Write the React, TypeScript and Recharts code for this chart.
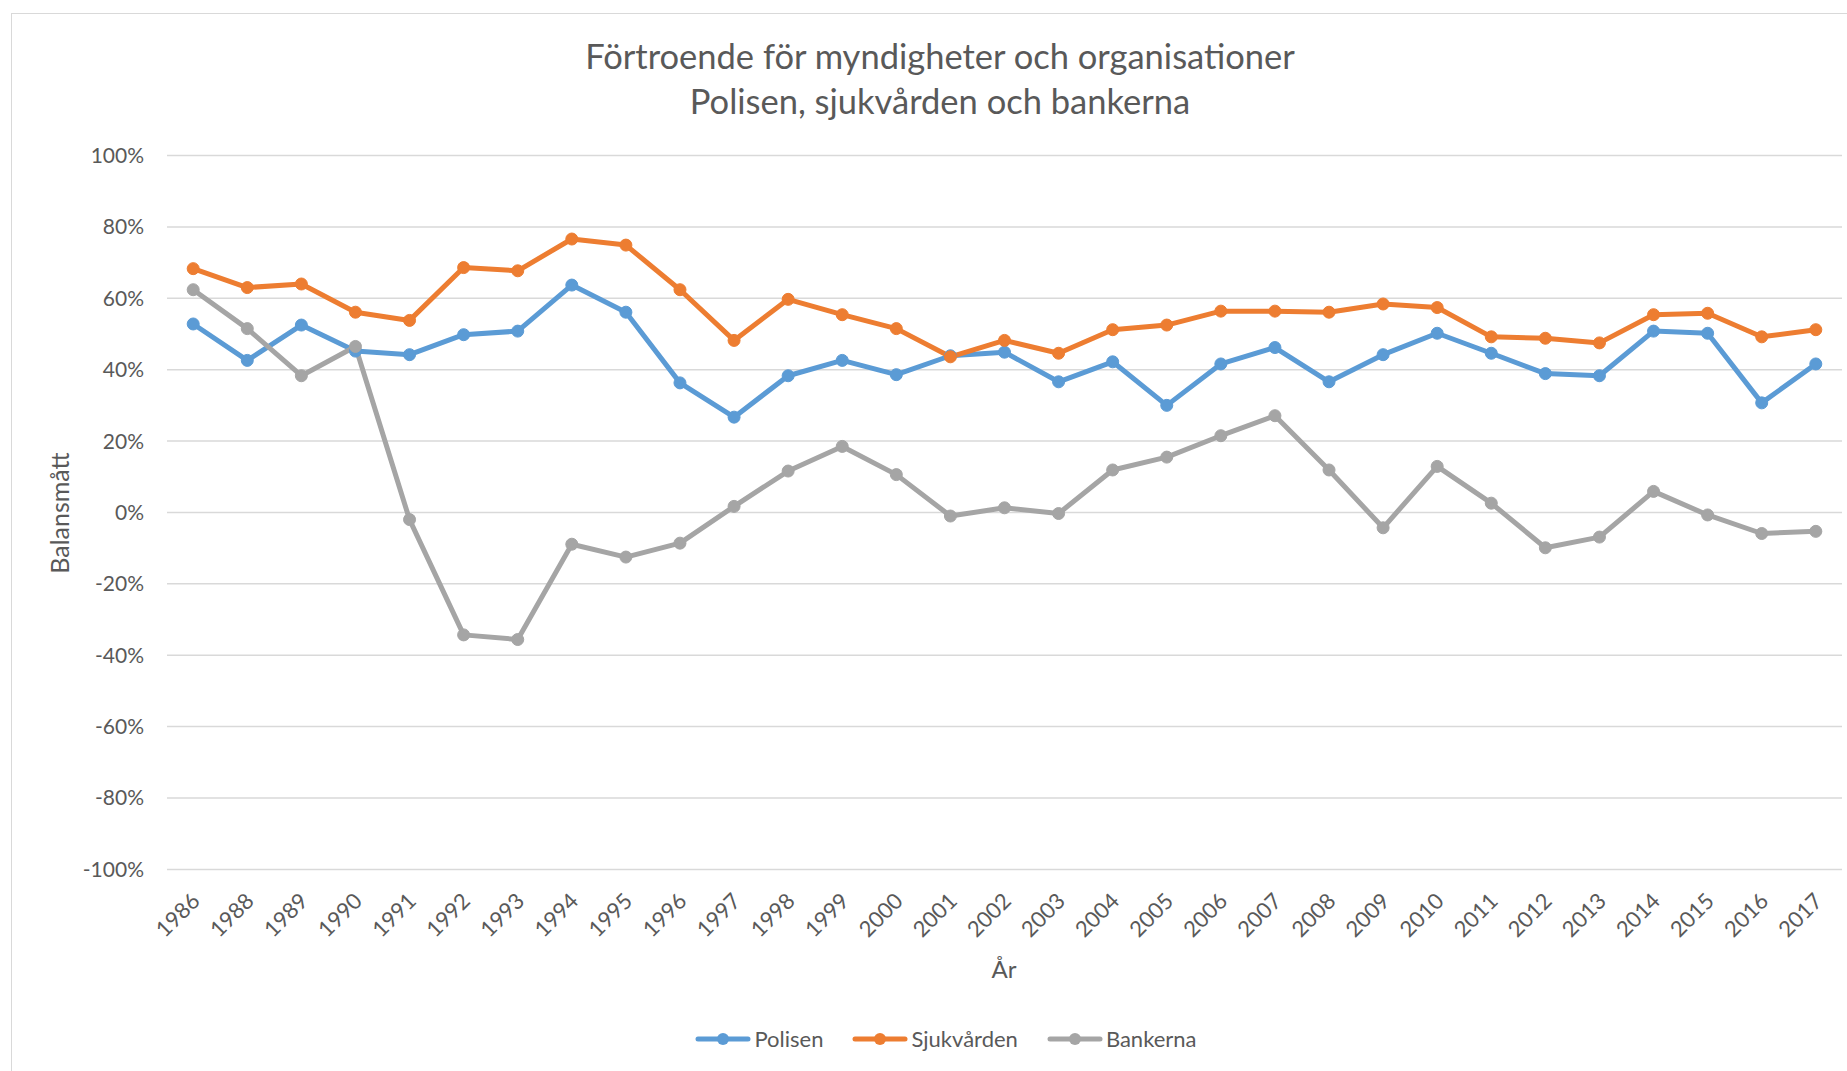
import { LineChart, Line, XAxis, YAxis, CartesianGrid } from "recharts";

const years = [
  "1986", "1988", "1989", "1990", "1991", "1992", "1993", "1994", "1995", "1996", "1997",
  "1998", "1999", "2000", "2001", "2002", "2003", "2004", "2005", "2006", "2007", "2008",
  "2009", "2010", "2011", "2012", "2013", "2014", "2015", "2016", "2017",
];

// values in percent (balansmått)
const polisen = [
  52.8, 42.6, 52.5, 45.2, 44.2, 49.8, 50.8, 63.7, 56.1, 36.3, 26.7,
  38.3, 42.6, 38.6, 43.9, 44.9, 36.6, 42.2, 30.0, 41.6, 46.2, 36.6,
  44.2, 50.2, 44.6, 38.9, 38.3, 50.8, 50.2, 30.7, 41.6,
];
const sjukvarden = [
  68.3, 63.0, 64.0, 56.1, 53.8, 68.6, 67.7, 76.6, 74.9, 62.4, 48.2,
  59.7, 55.4, 51.5, 43.6, 48.2, 44.6, 51.2, 52.5, 56.4, 56.4, 56.1,
  58.4, 57.4, 49.2, 48.8, 47.5, 55.4, 55.8, 49.2, 51.2,
];
const bankerna = [
  62.4, 51.5, 38.3, 46.5, -2.0, -34.3, -35.6, -8.9, -12.5, -8.6, 1.7,
  11.6, 18.5, 10.6, -1.0, 1.3, -0.3, 11.9, 15.5, 21.5, 27.1, 11.9,
  -4.3, 12.9, 2.6, -9.9, -6.9, 5.9, -0.7, -5.9, -5.3,
];
const yTicks = [-100, -80, -60, -40, -20, 0, 20, 40, 60, 80, 100];

const seriesInfo = [
  { key: "Polisen", color: "#5B9BD5" },
  { key: "Sjukvården", color: "#ED7D31" },
  { key: "Bankerna", color: "#A5A5A5" },
];

const rows = years.map((y, i) => ({
  year: y,
  Polisen: polisen[i],
  Sjukvården: sjukvarden[i],
  Bankerna: bankerna[i],
}));

const FONT = "Lato, 'Open Sans', sans-serif";
const TEXT = "#595959";

const YearTick = (props: any) => {
  const { x, y, payload } = props;
  return (
    <text
      transform={`translate(${x + 8},${y + 33}) rotate(-45)`}
      textAnchor="end"
      fill={TEXT}
      fontSize={22}
      fontFamily={FONT}
    >
      {payload.value}
    </text>
  );
};

export default function App() {
  return (
    <div style={{ position: "fixed", left: 0, top: 0, width: 1847, height: 1071, overflow: "hidden", background: "#fff" }}>
      <div
        style={{
          position: "absolute",
          left: 11,
          top: 13,
          width: 1900,
          height: 1100,
          borderLeft: "1px solid #d9d9d9",
          borderTop: "1px solid #d9d9d9",
        }}
      />
      <div
        style={{
          position: "absolute",
          left: 12,
          top: 33,
          width: 1856,
          textAlign: "center",
          color: TEXT,
          fontFamily: FONT,
          fontSize: 34.5,
          lineHeight: "45px",
        }}
      >
        <div>Förtroende för myndigheter och organisationer</div>
        <div>Polisen, sjukvården och bankerna</div>
      </div>
      <div
        style={{
          position: "absolute",
          left: 59,
          top: 513,
          transform: "translate(-50%, -50%) rotate(-90deg)",
          color: TEXT,
          fontFamily: FONT,
          fontSize: 25,
          whiteSpace: "nowrap",
        }}
      >
        Balansmått
      </div>
      <div
        style={{
          position: "absolute",
          left: 1004,
          top: 968,
          transform: "translate(-50%, -50%)",
          color: TEXT,
          fontFamily: FONT,
          fontSize: 24,
        }}
      >
        År
      </div>
      <div style={{ position: "absolute", left: 12, top: 14 }}>
        <LineChart
          width={1868}
          height={1057}
          data={rows}
          margin={{ top: 141.5, right: 38, left: 0, bottom: 101.6 }}
        >
          <CartesianGrid vertical={false} stroke="#d9d9d9" strokeWidth={1.5} />
          <XAxis
            dataKey="year"
            height={100}
            padding={{ left: 26.2, right: 26.2 }}
            axisLine={false}
            tickLine={false}
            tickSize={0}
            tickMargin={0}
            interval={0}
            tick={<YearTick />}
          />
          <YAxis
            width={155}
            domain={[-100, 100]}
            ticks={yTicks}
            allowDataOverflow
            axisLine={false}
            tickLine={false}
            tickSize={0}
            tickMargin={23}
            tickFormatter={(v: number) => `${v}%`}
            tick={{ fill: TEXT, fontSize: 21, fontFamily: FONT }}
          />
          {seriesInfo.map((s) => (
            <Line
              key={s.key}
              type="linear"
              dataKey={s.key}
              stroke={s.color}
              strokeWidth={5}
              strokeLinejoin="round"
              dot={{ r: 6, fill: s.color, stroke: s.color, strokeWidth: 1 }}
              activeDot={false}
              isAnimationActive={false}
            />
          ))}
        </LineChart>
      </div>
      <div
        style={{
          position: "absolute",
          left: 12,
          top: 1025,
          width: 1868,
          display: "flex",
          justifyContent: "center",
          alignItems: "center",
          gap: 29,
          fontFamily: FONT,
        }}
      >
        {seriesInfo.map((s) => (
          <div key={s.key} style={{ display: "flex", alignItems: "center" }}>
            <svg width={56} height={14}>
              <line x1={3} y1={7} x2={53} y2={7} stroke={s.color} strokeWidth={5} strokeLinecap="round" />
              <circle cx={28} cy={7} r={6} fill={s.color} />
            </svg>
            <span style={{ color: TEXT, fontSize: 22, marginLeft: 3 }}>{s.key}</span>
          </div>
        ))}
      </div>
    </div>
  );
}
